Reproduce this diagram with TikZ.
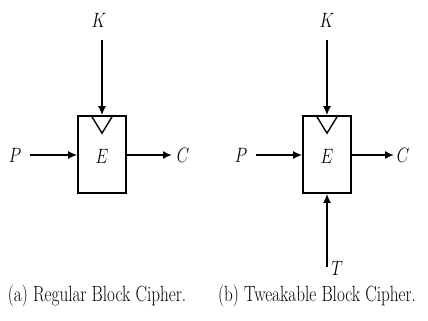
\documentclass[tikz,border=0pt]{standalone}
\usepackage{graphicx}
\usetikzlibrary{arrows.meta}
\newcommand{\sqz}[1]{\scalebox{0.78}[1]{#1}}
\begin{document}
\begin{tikzpicture}[x=1pt,y=-1pt,
  lbl/.style={inner sep=0pt,font=\fontsize{22}{26}\selectfont},
  captext/.style={inner sep=0pt,font=\fontsize{22}{26}\selectfont},
  wire/.style={line width=1.6pt,-{Latex[length=9pt,width=8pt]}},
  blk/.style={draw,line width=1.6pt,minimum width=48pt,minimum height=77pt,inner sep=0pt}]
\useasboundingbox (0,0) rectangle (428,321);
% (a)
\node[blk] (ea) at (102,154.5) {};
\node[lbl] (Ea) at (102,156) {\sqz{$E$}};
\draw[line width=1.4pt] ([xshift=-11pt]ea.north) -- ([yshift=-18pt]ea.north) -- ([xshift=11pt]ea.north);
\node[lbl] (Ka) at (99,20) {\sqz{$K$}};
\node[lbl] (Pa) at (15,155) {\sqz{$P$}};
\node[lbl] (Ca) at (183,155) {\sqz{$C$}};
\coordinate (ka0) at (102,40);
\coordinate (pa0) at (30,155);
\coordinate (ca1) at (172,155);
\draw[wire] (ka0) -- (ea.north);
\draw[wire] (pa0) -- (ea.west |- pa0);
\draw[wire] (ea.east |- pa0) -- (ca1);
\node[captext] (capa) at (97,296) {\sqz{(a) Regular Block Cipher.}};
% (b)
\node[blk] (eb) at (327,154.5) {};
\node[lbl] (Eb) at (327,156) {\sqz{$E$}};
\draw[line width=1.4pt] ([xshift=-11pt]eb.north) -- ([yshift=-18pt]eb.north) -- ([xshift=11pt]eb.north);
\node[lbl] (Kb) at (327,20) {\sqz{$K$}};
\node[lbl] (Pb) at (241,155) {\sqz{$P$}};
\node[lbl] (Cb) at (403,155) {\sqz{$C$}};
\node[lbl] (Tb) at (337,268) {\sqz{$T$}};
\coordinate (kb0) at (327,40);
\coordinate (pb0) at (256,155);
\coordinate (cb1) at (394,155);
\coordinate (tb0) at (327,267);
\draw[wire] (kb0) -- (eb.north);
\draw[wire] (pb0) -- (eb.west |- pb0);
\draw[wire] (eb.east |- pb0) -- (cb1);
\draw[wire] (tb0) -- (eb.south);
\node[captext] (capb) at (317,296) {\sqz{(b) Tweakable Block Cipher.}};
\end{tikzpicture}
\end{document}
